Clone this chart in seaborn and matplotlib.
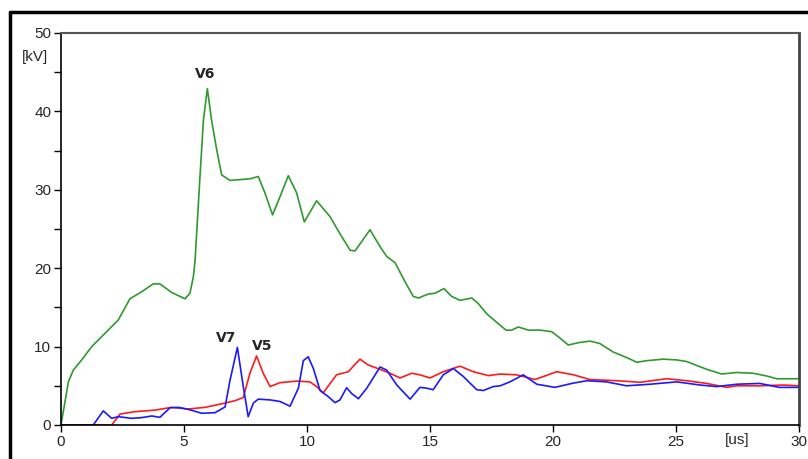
import numpy as np
import pandas as pd
import matplotlib
matplotlib.use("Agg")
import matplotlib.pyplot as plt
from matplotlib.lines import Line2D
from matplotlib.ticker import MultipleLocator
import seaborn as sns

# ========== data ==========
t_v6 = [0, 0.3, 0.5, 0.84, 1.25, 1.79, 2.33, 2.8, 3.28, 3.75,
        4.02, 4.5, 5.04, 5.24, 5.38, 5.45, 5.65, 5.79, 5.95, 6.12,
        6.33, 6.53, 6.87, 7.68, 8.02, 8.29, 8.6, 8.9, 9.24, 9.58,
        9.89, 10.39, 10.93, 11.34, 11.75, 11.95, 12.2, 12.56, 13.0, 13.24,
        13.58, 13.98, 14.32, 14.53, 14.93, 15.2, 15.57, 15.88, 16.22, 16.7,
        16.96, 17.3, 17.71, 18.09, 18.32, 18.59, 19.0, 19.47, 19.95, 20.28,
        20.62, 21.03, 21.5, 21.9, 22.45, 23.0, 23.4, 23.8, 24.48, 25.03,
        25.43, 26.25, 26.86, 27.47, 28.14, 28.69, 29.09, 30.0]
v6 = [0, 5.5, 7.0, 8.3, 10.0, 11.7, 13.4, 16.1, 17.0, 18.0,
      18.0, 16.9, 16.1, 16.8, 18.9, 21.0, 31.7, 38.9, 42.9, 38.9,
      35.1, 31.9, 31.2, 31.4, 31.7, 29.6, 26.8, 29.1, 31.8, 29.6,
      25.9, 28.6, 26.6, 24.4, 22.3, 22.2, 23.3, 24.9, 22.6, 21.5,
      20.7, 18.3, 16.4, 16.2, 16.7, 16.8, 17.4, 16.4, 15.9, 16.2,
      15.5, 14.2, 13.1, 12.1, 12.1, 12.5, 12.1, 12.1, 11.9, 11.1,
      10.2, 10.5, 10.7, 10.4, 9.3, 8.6, 8.0, 8.2, 8.4, 8.3,
      8.1, 7.1, 6.5, 6.7, 6.6, 6.25, 5.9, 5.9]

t_v5 = [0, 2.06, 2.4, 3.0, 3.82, 4.5, 5.17, 5.85, 6.53, 7.07,
        7.41, 7.68, 7.95, 8.22, 8.5, 8.9, 9.58, 10.12, 10.39, 10.66,
        11.2, 11.68, 12.15, 12.49, 12.97, 13.37, 13.78, 14.26, 14.59, 15.0,
        15.54, 16.22, 16.76, 17.37, 17.85, 18.52, 19.27, 20.15, 20.83, 21.5,
        22.59, 23.54, 24.62, 25.43, 26.25, 27.06, 27.47, 28.41, 29.36, 30.0]
v5 = [0, 0, 1.4, 1.7, 1.9, 2.25, 2.04, 2.25, 2.7, 3.1,
      3.5, 6.6, 8.8, 6.6, 4.9, 5.4, 5.6, 5.5, 4.9, 4.1,
      6.4, 6.8, 8.4, 7.65, 7.1, 6.6, 6.0, 6.6, 6.4, 6.0,
      6.8, 7.5, 6.8, 6.3, 6.5, 6.4, 5.8, 6.8, 6.4, 5.8,
      5.65, 5.45, 5.9, 5.65, 5.3, 4.8, 5.0, 5.0, 5.1, 5.0]

t_v7 = [0, 1.31, 1.72, 2.06, 2.33, 2.87, 3.28, 3.69, 4.02, 4.43,
        4.77, 5.17, 5.72, 6.26, 6.67, 6.87, 7.17, 7.41, 7.61, 7.82,
        8.02, 8.5, 8.9, 9.31, 9.65, 9.85, 10.05, 10.26, 10.53, 10.87,
        11.14, 11.34, 11.61, 11.82, 12.09, 12.43, 12.97, 13.24, 13.65, 14.19,
        14.59, 14.86, 15.13, 15.54, 15.95, 16.35, 16.9, 17.17, 17.57, 17.85,
        18.25, 18.79, 19.34, 20.08, 20.76, 21.37, 22.18, 22.99, 23.94, 25.03,
        25.98, 26.65, 27.47, 28.41, 29.2, 30.0]
v7 = [0, 0, 1.8, 0.85, 1.06, 0.85, 0.94, 1.15, 0.98, 2.2,
      2.25, 2.0, 1.5, 1.57, 2.3, 5.7, 9.9, 4.9, 1.06, 2.8,
      3.3, 3.2, 3.0, 2.4, 4.7, 8.2, 8.7, 7.2, 4.4, 3.6,
      2.85, 3.2, 4.75, 4.0, 3.35, 4.7, 7.4, 7.0, 5.1, 3.3,
      4.8, 4.7, 4.5, 6.4, 7.2, 6.2, 4.5, 4.4, 4.9, 5.0,
      5.5, 6.4, 5.2, 4.8, 5.3, 5.65, 5.5, 5.0, 5.2, 5.5,
      5.1, 4.9, 5.2, 5.3, 4.8, 4.8]

series_names = ['V6', 'V5', 'V7']
series_colors = {'V6': '#2e9a2e', 'V5': '#ff1a1a', 'V7': '#1a1aff'}

df = pd.concat([
    pd.DataFrame({'t': t_v6, 'v': v6, 'name': 'V6'}),
    pd.DataFrame({'t': t_v5, 'v': v5, 'name': 'V5'}),
    pd.DataFrame({'t': t_v7, 'v': v7, 'name': 'V7'}),
], ignore_index=True)

# ========== figure ==========
sns.set_style('white')
plt.rcParams['font.family'] = ['Liberation Sans', 'DejaVu Sans']

fig = plt.figure(figsize=(8.08, 4.59), dpi=100)
ax = fig.add_axes([61 / 808, 1 - 425 / 459, 738 / 808, 392 / 459])

sns.lineplot(data=df, x='t', y='v', hue='name', hue_order=series_names,
             palette=series_colors, estimator=None, sort=False,
             linewidth=1.2, legend=False, ax=ax)

ax.set_xlim(0, 30)
ax.set_ylim(0, 50)
ax.xaxis.set_major_locator(MultipleLocator(5))
ax.yaxis.set_major_locator(MultipleLocator(10))
ax.yaxis.set_minor_locator(MultipleLocator(5))
ax.tick_params(axis='both', which='both', direction='out', length=5,
               width=1, color='black', labelsize=11, pad=2,
               bottom=True, left=True)
ax.set_xlabel('')
ax.set_ylabel('')

for side in ['left', 'bottom']:
    ax.spines[side].set_color('black')
    ax.spines[side].set_linewidth(1.2)
ax.spines['top'].set_color('#555555')
ax.spines['top'].set_linewidth(1.5)
ax.spines['right'].set_color('#444444')
ax.spines['right'].set_linewidth(2)

# unit labels
fig.text(35 / 808, 1 - 57 / 459, '[kV]', ha='center', va='center', fontsize=11)
fig.text(737 / 808, 1 - 440 / 459, '[us]', ha='center', va='center', fontsize=11)

# curve labels
ax.text(5.85, 44.8, 'V6', ha='center', va='center', fontsize=10,
        fontweight='bold', family='DejaVu Sans')
ax.text(6.7, 11.1, 'V7', ha='center', va='center', fontsize=10,
        fontweight='bold', family='DejaVu Sans')
ax.text(8.17, 10.1, 'V5', ha='center', va='center', fontsize=10,
        fontweight='bold', family='DejaVu Sans')

# outer frame (top and left edges)
fig.add_artist(Line2D([10 / 808, 1], [1 - 12 / 459, 1 - 12 / 459],
                      transform=fig.transFigure, color='black', linewidth=2.5))
fig.add_artist(Line2D([10 / 808, 10 / 808], [0, 1 - 12 / 459],
                      transform=fig.transFigure, color='black', linewidth=2.5))

fig.savefig('out.png', dpi=100)
plt.close(fig)
